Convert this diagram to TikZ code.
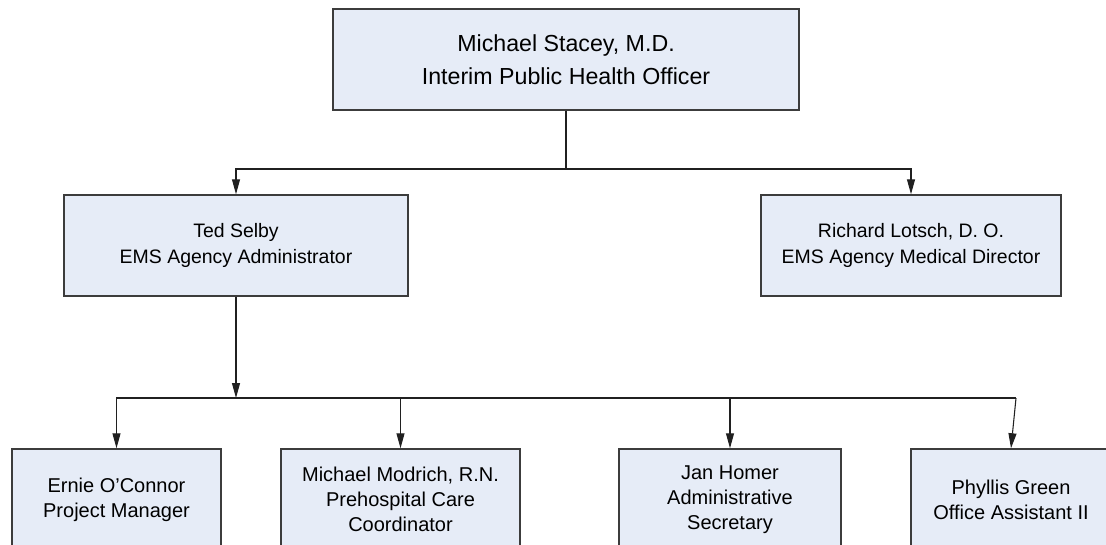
\documentclass[tikz,border=0pt]{standalone}
\usepackage{fontspec}
\setmainfont{Liberation Sans}
\usetikzlibrary{arrows.meta}
\definecolor{boxfill}{HTML}{E6ECF7}
\definecolor{boxline}{HTML}{3C3C3C}
\definecolor{conline}{HTML}{202020}
\tikzset{
  orgbox/.style={draw=boxline, line width=1.1pt, fill=boxfill, rectangle, inner sep=0pt, align=center, minimum height=75.75pt},
  topfont/.style={font=\fontsize{17.4}{24.75}\selectfont},
  midfont/.style={font=\fontsize{14.6}{19.5}\selectfont},
  lowfont/.style={font=\fontsize{15}{18.75}\selectfont},
  con/.style={draw=conline, line width=0.8pt},
  arr/.style={con, -{Triangle[length=11.25pt, width=6pt]}}
}
\begin{document}
\begin{tikzpicture}[x=0.75pt, y=-0.75pt]
\clip (0,0) rectangle (1106,545);
\fill[white] (0,0) rectangle (1106,545);
% boxes
\node[orgbox, topfont, minimum width=349.5pt] (top) at (566,59.5) {Michael Stacey, M.D.\\Interim Public Health Officer};
\node[orgbox, midfont, minimum width=258pt] (ted) at (236,245.5) {Ted Selby\\EMS Agency Administrator};
\node[orgbox, midfont, minimum width=225pt] (rich) at (911,245.5) {Richard Lotsch, D. O.\\EMS Agency Medical Director};
\node[orgbox, lowfont, minimum width=156.75pt] (b1) at (116.5,499.5) {Ernie O’Connor\\Project Manager};
\node[orgbox, lowfont, minimum width=179.25pt] (b2) at (400.5,499.5) {Michael Modrich, R.N.\\Prehospital Care\\Coordinator};
\node[orgbox, lowfont, minimum width=166.5pt] (b3) at (730,499.5) {Jan Homer\\Administrative\\Secretary};
\node[orgbox, lowfont, minimum width=150pt] (b4) at (1011,499.5) {Phyllis Green\\Office Assistant II};
% connectors
\coordinate (j1) at (566,169);
\coordinate (j2) at (236,398);
\coordinate (hr) at (1016,398);
\draw[con] (top) -- (j1);
\draw[arr] (j1) -| (ted.north);
\draw[arr] (j1) -| (rich.north);
\draw[arr] (ted) -- (j2);
\draw[arr] (j2) -| (b1.north);
\draw[arr] (j2) -| (b2.north);
\draw[arr] (j2) -| (b3.north);
\draw[con] (j2) -- (hr);
\draw[arr] (hr) -- (b4.north);
\end{tikzpicture}
\end{document}
